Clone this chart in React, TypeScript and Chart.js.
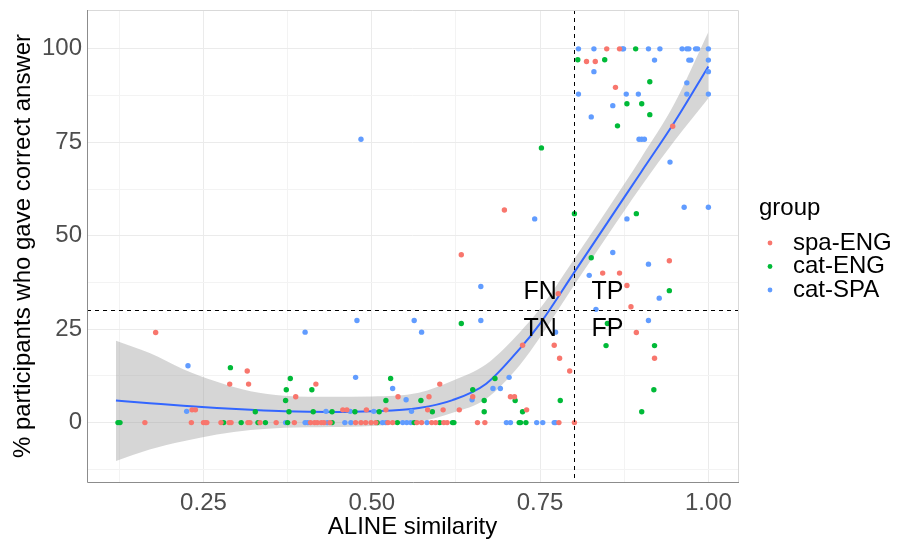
import React, { useEffect, useRef } from "react";
import { Chart, registerables } from "chart.js";
Chart.register(...registerables);

// ---------- data ----------
const groupNames = ["spa-ENG", "cat-ENG", "cat-SPA"];
const groupColors = ["#F8766D", "#00BA38", "#619CFF"];

const spaEngX = [
  0.179, 0.315, 0.289, 0.317, 0.387, 0.233, 0.238, 0.163, 0.232, 0.25, 0.253, 0.255, 0.276, 0.288, 0.291, 0.316, 0.319, 0.334, 0.358, 0.385,
  0.417, 0.601, 0.539, 0.585, 0.65, 0.706, 0.712, 0.606, 0.63, 0.583, 0.457, 0.463, 0.492, 0.521,
  0.409, 0.415, 0.419, 0.425, 0.429, 0.438, 0.476, 0.484, 0.491, 0.499, 0.506, 0.524, 0.531, 0.567, 0.574, 0.589, 0.595, 0.607, 0.612, 0.657, 0.668, 0.778, 0.801,
  0.697, 0.633, 0.777, 0.724, 0.771, 0.73, 0.779, 0.794,
  0.947, 0.942, 0.843, 0.868, 0.879, 0.885, 0.893, 0.92, 0.862, 0.849, 0.868, 0.819, 0.832,
];
const spaEngY = [
  24.1, 13.8, 10.3, 10.3, 6.9, 3.4, 3.4, 0, 0, 0, 0, 0, 0, 0, 0, 0, 0, 0, 0, 0,
  10.3, 10.3, 6.9, 6.9, 6.9, 6.9, 6.9, 3.4, 3.4, 3.4, 3.4, 3.4, 3.4, 3.4,
  0, 0, 0, 0, 0, 0, 0, 0, 0, 0, 0, 0, 0, 0, 0, 0, 0, 0, 0, 0, 0, 0, 0,
  56.9, 44.9, 34.5, 20.7, 20.7, 3.4, 17.2, 13.8,
  79.3, 43.3, 40.0, 40.0, 36.7, 31.0, 24.1, 17.2, 89.7, 100, 100, 96.6, 96.6,
];

const catEngX = [
  0.123, 0.126, 0.29, 0.379, 0.373, 0.372, 0.327, 0.377, 0.28, 0.306, 0.331, 0.342, 0.375,
  0.528, 0.411, 0.521, 0.573, 0.65, 0.683, 0.667, 0.667, 0.59, 0.413, 0.441, 0.475, 0.511,
  0.441, 0.508, 0.538, 0.563, 0.601, 0.62, 0.622, 0.719, 0.721, 0.729,
  0.752, 0.801, 0.893, 0.826, 0.942, 0.633, 0.85, 0.848, 0.92, 0.919, 0.78, 0.901, 0.713, 0.724,
  0.865, 0.892, 0.806, 0.846, 0.913, 0.879, 0.901, 0.913,
];
const catEngY = [
  0, 0, 14.7, 11.8, 8.8, 5.9, 2.9, 2.9, 0, 0, 0, 0, 0,
  11.8, 8.8, 5.9, 5.9, 8.8, 11.8, 5.9, 2.9, 2.9, 2.9, 2.9, 2.9, 2.9,
  0, 0, 0, 0, 0, 0, 0, 0, 0, 0,
  73.5, 55.9, 55.9, 44.1, 35.3, 26.5, 26.5, 20.6, 20.6, 8.8, 5.9, 2.9, 5.9, 2.9,
  79.4, 100, 97.1, 97.1, 91.2, 85.3, 85.3, 82.4,
];

const catSpaX = [
  0.227, 0.225, 0.372, 0.401, 0.401, 0.478, 0.563, 0.574, 0.476, 0.531, 0.551, 0.649, 0.68, 0.691, 0.704, 0.559, 0.432, 0.468, 0.503,
  0.405, 0.434, 0.46, 0.469, 0.516, 0.521, 0.546, 0.552, 0.558, 0.582, 0.7, 0.706, 0.745, 0.754, 0.771, 0.773,
  0.484, 0.742, 0.662, 0.662, 0.773,
  0.879, 0.964, 1.0, 0.858, 0.911, 0.823, 0.927, 0.833, 0.911, 0.943, 0.897, 0.901, 0.905,
  0.807, 0.83, 0.872, 0.874, 0.911, 0.928, 0.961, 0.968, 0.971, 0.981, 0.984, 1.0,
  0.92, 0.971, 0.974, 1.0,
  0.83, 1.0, 0.968, 0.807, 0.878, 0.896, 0.968, 1.0, 0.858, 0.826,
];
const catSpaY = [
  15.2, 3.0, 0, 0, 24.2, 27.3, 27.3, 24.2, 12.1, 9.1, 6.1, 6.1, 9.1, 9.1, 12.1, 3.0, 3.0, 3.0, 3.0,
  0, 0, 0, 0, 0, 0, 0, 0, 0, 0, 0, 0, 0, 0, 0, 0,
  75.8, 54.5, 36.4, 27.3, 24.2,
  54.5, 57.6, 57.6, 45.5, 42.4, 39.4, 33.3, 30.3, 27.3, 69.7, 75.8, 75.8, 75.8,
  100, 100, 100, 100, 100, 100, 100, 100, 100, 100, 100, 100,
  97.0, 97.0, 97.0, 97.0,
  93.9, 93.9, 90.9, 87.9, 87.9, 87.9, 87.9, 87.9, 84.8, 81.8,
];

// loess smooth
const smoothX = [0.12, 0.17, 0.22, 0.27, 0.32, 0.37, 0.44, 0.5, 0.57, 0.62, 0.67, 0.72, 0.75, 0.8, 0.85, 0.9, 0.95, 1.0];
const smoothFit = [5.9, 5.2, 4.5, 3.9, 3.4, 3.0, 2.8, 3.0, 3.9, 6.0, 10.4, 19.8, 26.5, 40.0, 53.5, 67.0, 80.5, 95.3];
const smoothLower = [-10.3, -7.2, -5.0, -3.2, -2.0, -1.4, -1.2, -0.9, 0.2, 2.6, 6.4, 15.4, 22.8, 36.6, 50.0, 63.2, 75.5, 86.8];
const smoothUpper = [21.9, 18.6, 14.3, 10.9, 8.4, 7.2, 6.9, 7.0, 8.0, 11.2, 15.6, 24.2, 30.5, 43.6, 57.0, 70.8, 85.5, 104.5];

const xTickValues = [0.25, 0.5, 0.75, 1.0];
const xTickLabels = ["0.25", "0.50", "0.75", "1.00"];
const xMinorValues = [0.125, 0.375, 0.625, 0.875];
const yTickValues = [0, 25, 50, 75, 100];
const yTickLabels = ["0", "25", "50", "75", "100"];
const yMinorValues = [-12.5, 12.5, 37.5, 62.5, 87.5];

const cutX = 0.8;
const cutY = 30;
const quadLabels = ["FN", "TP", "TN", "FP"];
const quadX = [0.75, 0.85, 0.75, 0.85];
const quadY = [35, 35, 25, 25];

const X_MIN = 0.077;
const X_MAX = 1.044;
const Y_MIN = -15.9;
const Y_MAX = 110.4;

const FONT = '"Liberation Sans", Arial, sans-serif';

function zip(xs: number[], ys: number[]) {
  return xs.map((x, i) => ({ x, y: ys[i] }));
}

const overlayPlugin = {
  id: "overlay",
  afterDatasetsDraw(chart: any) {
    const { ctx, chartArea: a, scales } = chart;
    const xs = scales.x;
    const ys = scales.y;
    ctx.save();
    ctx.strokeStyle = "#000";
    ctx.lineWidth = 1;
    ctx.setLineDash([4, 4]);
    const vx = Math.round(xs.getPixelForValue(cutX)) + 0.5;
    ctx.beginPath();
    ctx.moveTo(vx, a.top);
    ctx.lineTo(vx, a.bottom);
    ctx.stroke();
    const hy = Math.round(ys.getPixelForValue(cutY)) + 0.5;
    ctx.beginPath();
    ctx.moveTo(a.left, hy);
    ctx.lineTo(a.right, hy);
    ctx.stroke();
    ctx.setLineDash([]);
    ctx.fillStyle = "#000";
    ctx.font = `25px ${FONT}`;
    ctx.textAlign = "center";
    ctx.textBaseline = "middle";
    quadLabels.forEach((t, i) => {
      ctx.fillText(t, xs.getPixelForValue(quadX[i]), ys.getPixelForValue(quadY[i]));
    });
    ctx.restore();
  },
  afterDraw(chart: any) {
    const { ctx, chartArea: a } = chart;
    ctx.save();
    // panel border
    ctx.lineWidth = 1;
    ctx.strokeStyle = "#D9D9D9";
    ctx.beginPath();
    ctx.moveTo(a.left, a.top + 0.5);
    ctx.lineTo(a.right + 0.5, a.top + 0.5);
    ctx.lineTo(a.right + 0.5, a.bottom);
    ctx.stroke();
    ctx.strokeStyle = "#8C8C8C";
    ctx.beginPath();
    ctx.moveTo(a.left + 0.5, a.top);
    ctx.lineTo(a.left + 0.5, a.bottom + 0.5);
    ctx.lineTo(a.right + 1, a.bottom + 0.5);
    ctx.stroke();
    // legend
    const lx = a.right + 21;
    ctx.fillStyle = "#000";
    ctx.font = `24px ${FONT}`;
    ctx.textAlign = "left";
    ctx.textBaseline = "middle";
    ctx.fillText("group", lx, 208);
    groupNames.forEach((g, i) => {
      const cy = 243 + i * 23.5;
      ctx.fillStyle = groupColors[i];
      ctx.beginPath();
      ctx.arc(lx + 11, cy, 2.4, 0, Math.PI * 2);
      ctx.fill();
      ctx.fillStyle = "#000";
      ctx.fillText(g, lx + 34, cy);
    });
    ctx.restore();
  },
};

export default function App() {
  const ref = useRef<HTMLCanvasElement | null>(null);
  useEffect(() => {
    if (!ref.current) return;
    const pointDs = (i: number, xs: number[], ys: number[]) => ({
      type: "scatter" as const,
      label: groupNames[i],
      data: zip(xs, ys),
      backgroundColor: groupColors[i],
      borderWidth: 0,
      pointRadius: 2.7,
      order: 0,
    });
    const chart = new Chart(ref.current, {
      type: "scatter",
      data: {
        datasets: [
          pointDs(0, spaEngX, spaEngY),
          pointDs(1, catEngX, catEngY),
          pointDs(2, catSpaX, catSpaY),
          {
            type: "line",
            label: "smooth",
            data: zip(smoothX, smoothFit),
            borderColor: "#3366FF",
            borderWidth: 2,
            pointRadius: 0,
            fill: false,
            cubicInterpolationMode: "monotone",
            order: 1,
          } as any,
          {
            type: "line",
            label: "upper",
            data: zip(smoothX, smoothUpper),
            borderWidth: 0,
            borderColor: "rgba(0,0,0,0)",
            backgroundColor: "rgba(153,153,153,0.4)",
            pointRadius: 0,
            fill: "+1",
            cubicInterpolationMode: "monotone",
            order: 2,
          } as any,
          {
            type: "line",
            label: "lower",
            data: zip(smoothX, smoothLower),
            borderWidth: 0,
            borderColor: "rgba(0,0,0,0)",
            pointRadius: 0,
            fill: false,
            cubicInterpolationMode: "monotone",
            order: 2,
          } as any,
        ],
      },
      options: {
        animation: false,
        responsive: false,
        devicePixelRatio: 1,
        layout: { padding: { top: 10, right: 161, bottom: 0, left: 0 } },
        plugins: { legend: { display: false }, tooltip: { enabled: false } },
        scales: {
          x: {
            type: "linear",
            min: X_MIN,
            max: X_MAX,
            afterBuildTicks: (s: any) => {
              s.ticks = [...xMinorValues, ...xTickValues].sort((p, q) => p - q).map((v) => ({ value: v }));
            },
            afterFit: (s: any) => {
              s.height = 61;
              s.paddingLeft = 0;
              s.paddingRight = 0;
            },
            border: { display: false },
            grid: {
              drawTicks: false,
              color: (c: any) => (xTickValues.includes(c.tick?.value) ? "#EBEBEB" : "#F3F3F3"),
              lineWidth: 1,
            },
            ticks: {
              autoSkip: false,
              maxRotation: 0,
              padding: 7,
              color: "#4D4D4D",
              font: { family: FONT, size: 24 },
              callback: (v: any) => {
                const i = xTickValues.indexOf(v);
                return i >= 0 ? xTickLabels[i] : "";
              },
            },
            title: {
              display: true,
              text: "ALINE similarity",
              color: "#000",
              font: { family: FONT, size: 24 },
              padding: { top: 0, bottom: 1 },
            },
          },
          y: {
            type: "linear",
            min: Y_MIN,
            max: Y_MAX,
            afterBuildTicks: (s: any) => {
              s.ticks = [...yMinorValues, ...yTickValues].sort((p, q) => p - q).map((v) => ({ value: v }));
            },
            afterFit: (s: any) => {
              s.width = 87;
              s.paddingTop = 0;
              s.paddingBottom = 0;
            },
            border: { display: false },
            grid: {
              drawTicks: false,
              color: (c: any) => (yTickValues.includes(c.tick?.value) ? "#EBEBEB" : "#F3F3F3"),
              lineWidth: 1,
            },
            ticks: {
              autoSkip: false,
              padding: 5,
              color: "#4D4D4D",
              font: { family: FONT, size: 24 },
              callback: (v: any) => {
                const i = yTickValues.indexOf(v);
                return i >= 0 ? yTickLabels[i] : "";
              },
            },
            title: {
              display: true,
              text: "% participants who gave correct answer",
              color: "#000",
              font: { family: FONT, size: 24 },
              padding: { top: 9, bottom: 0 },
            },
          },
        },
      },
      plugins: [overlayPlugin],
    } as any);
    return () => chart.destroy();
  }, []);
  return (
    <div style={{ position: "fixed", left: 0, top: 0, width: 899, height: 543, background: "#fff" }}>
      <canvas ref={ref} width={899} height={543} style={{ display: "block" }} />
    </div>
  );
}
